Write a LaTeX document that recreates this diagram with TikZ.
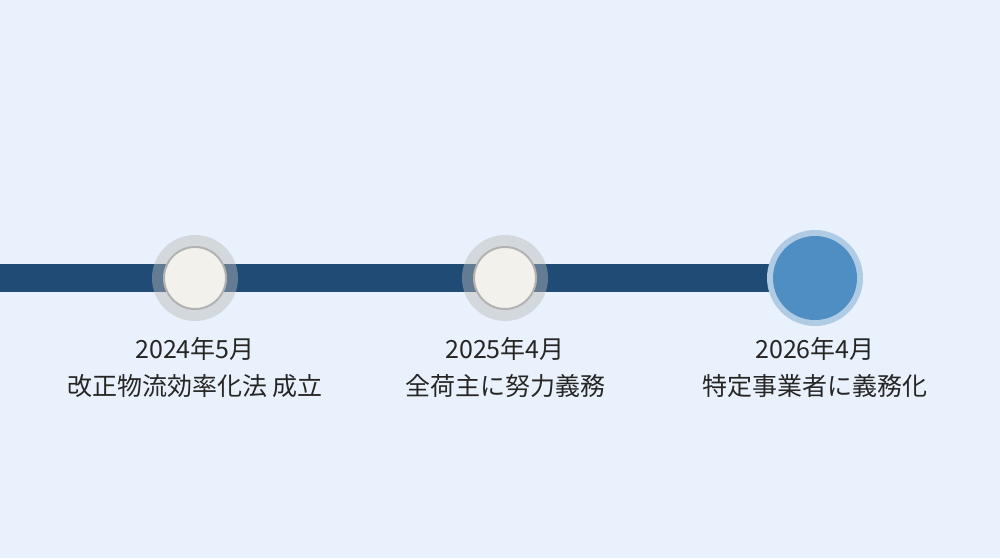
\documentclass[tikz,border=0pt]{standalone}
\usepackage{fontspec}
\newfontfamily\cjk{Noto Sans CJK JP}
\definecolor{bg}{HTML}{E9F2FC}
\definecolor{bar}{HTML}{1F4B75}
\definecolor{cream}{HTML}{F3F1EB}
\definecolor{done}{HTML}{4E8EC3}
\begin{document}
\begin{tikzpicture}[x=1pt,y=-1pt,
  lbl/.style={font=\cjk\fontsize{25}{37}\selectfont, align=center, text=black!85, anchor=north},
  halo/.style={circle, fill=gray!55, opacity=0.45, minimum size=86pt, inner sep=0},
  past/.style={circle, fill=cream, draw=gray!60, line width=2pt, minimum size=62pt, inner sep=0},
  haloN/.style={circle, fill=done!45, minimum size=96pt, inner sep=0},
  now/.style={circle, fill=done, minimum size=84pt, inner sep=0}]
\fill[bg] (0,0) rectangle (1000,558);
\useasboundingbox (0,0) rectangle (1000,558);
\coordinate (s) at (0,278);
\coordinate (e) at (815,278);
\draw[bar, line width=28pt] (s) -- (e);
\node[halo] (h1) at (195,278) {};
\node[past] (c1) at (195,278) {};
\node[halo] (h2) at (505,278) {};
\node[past] (c2) at (505,278) {};
\node[haloN] (h3) at (815,278) {};
\node[now] (c3) at (815,278) {};
\node[lbl] (t1) at (195,334) {2024年5月\\改正物流効率化法 成立};
\node[lbl] (t2) at (505,334) {2025年4月\\全荷主に努力義務};
\node[lbl] (t3) at (815,334) {2026年4月\\特定事業者に義務化};
\end{tikzpicture}
\end{document}
